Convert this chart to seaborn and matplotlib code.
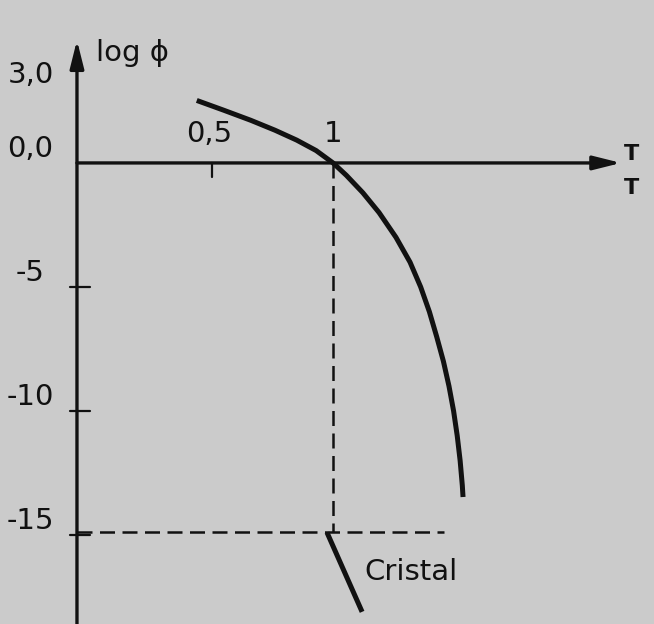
import matplotlib
matplotlib.use("Agg")
import matplotlib.pyplot as plt
import seaborn as sns
import pandas as pd

# Liquid branch: log(phi) against reduced temperature T/T
liquid_t = [0.437, 0.55, 0.66, 0.76, 0.85, 0.93, 1.0,
            1.055, 1.123, 1.19, 1.26, 1.318, 1.362, 1.398, 1.428, 1.456,
            1.479, 1.498, 1.513, 1.525, 1.534, 1.537]
liquid_logphi = [2.52, 2.12, 1.72, 1.32, 0.92, 0.50, 0.0,
                 -0.5, -1.2, -2.0, -3.0, -4.0, -5.0, -6.0, -7.0, -8.0,
                 -9.0, -10.0, -11.0, -12.0, -13.0, -13.47]

# Crystal branch below the melting point
crystal_t = [0.975, 1.12]
crystal_logphi = [-14.9, -18.1]

# Reference levels
melt_t = 1.0
crystal_level = -14.9

ytick_values = [3.0, 0.0, -5, -10, -15]
ytick_labels = ["3,0", "0,0", "-5", "-10", "-15"]
xtick_values = [0.5, 1.0]
xtick_labels = ["0,5", "1"]

bg = "#cbcbcb"
ink = "#111111"

sns.set_theme(style="white")
plt.rcParams["font.family"] = ["DejaVu Sans"]

fig = plt.figure(figsize=(6.54, 6.24), dpi=100, facecolor=bg)
ax = fig.add_axes([0, 0, 1, 1])
ax.set_facecolor(bg)
ax.set_xlim(-0.376, 2.326)
ax.set_ylim(-18.59, 6.57)
ax.axis("off")

liquid = pd.DataFrame({"t": liquid_t, "logphi": liquid_logphi})
crystal = pd.DataFrame({"t": crystal_t, "logphi": crystal_logphi})

sns.lineplot(data=liquid, x="t", y="logphi", ax=ax, color=ink, lw=3.6, sort=False,
             solid_capstyle="butt", solid_joinstyle="round")
sns.lineplot(data=crystal, x="t", y="logphi", ax=ax, color=ink, lw=3.6, sort=False,
             solid_capstyle="butt")

# Axes drawn as arrows
axis_x = -0.058
ax.annotate("", xy=(2.19, 0), xytext=(axis_x, 0),
            arrowprops=dict(arrowstyle="-|>,head_length=1.4,head_width=0.35",
                            color=ink, lw=2.4, shrinkA=0, shrinkB=0))
ax.annotate("", xy=(axis_x, 4.95), xytext=(axis_x, -18.6),
            arrowprops=dict(arrowstyle="-|>,head_length=1.4,head_width=0.35",
                            color=ink, lw=2.4, shrinkA=0, shrinkB=0))

# Dashed guides to the crystal level
ax.plot([melt_t, melt_t], [0, crystal_level], color=ink, lw=1.8, ls=(0, (6, 3)))
ax.plot([axis_x, 1.46], [crystal_level, crystal_level], color=ink, lw=1.8, ls=(0, (6, 3)))

# Tick marks and labels
fs = 21
for v, lab in zip(ytick_values, ytick_labels):
    if v < 0:
        ax.plot([axis_x - 0.03, axis_x + 0.055], [v, v], color=ink, lw=1.6)
    ax.text(-0.25, v + 0.55, lab, ha="center", va="center", fontsize=fs, color=ink)
for v, lab in zip(xtick_values, xtick_labels):
    if v < 1:
        ax.plot([v, v], [0, -0.55], color=ink, lw=1.6)
    ax.text(v - (0.01 if v < 1 else 0.0), 1.15, lab, ha="center", va="center",
            fontsize=fs, color=ink)

ax.text(0.02, 4.45, "log ϕ", ha="left", va="center", fontsize=fs, color=ink)
ax.text(2.235, 0.35, "T", ha="center", va="center", fontsize=16, color=ink, fontweight="bold")
ax.text(2.235, -1.0, "T", ha="center", va="center", fontsize=16, color=ink, fontweight="bold")
ax.text(1.13, -16.5, "Cristal", ha="left", va="center", fontsize=fs, color=ink)

fig.savefig("out.png", dpi=100, facecolor=bg)
